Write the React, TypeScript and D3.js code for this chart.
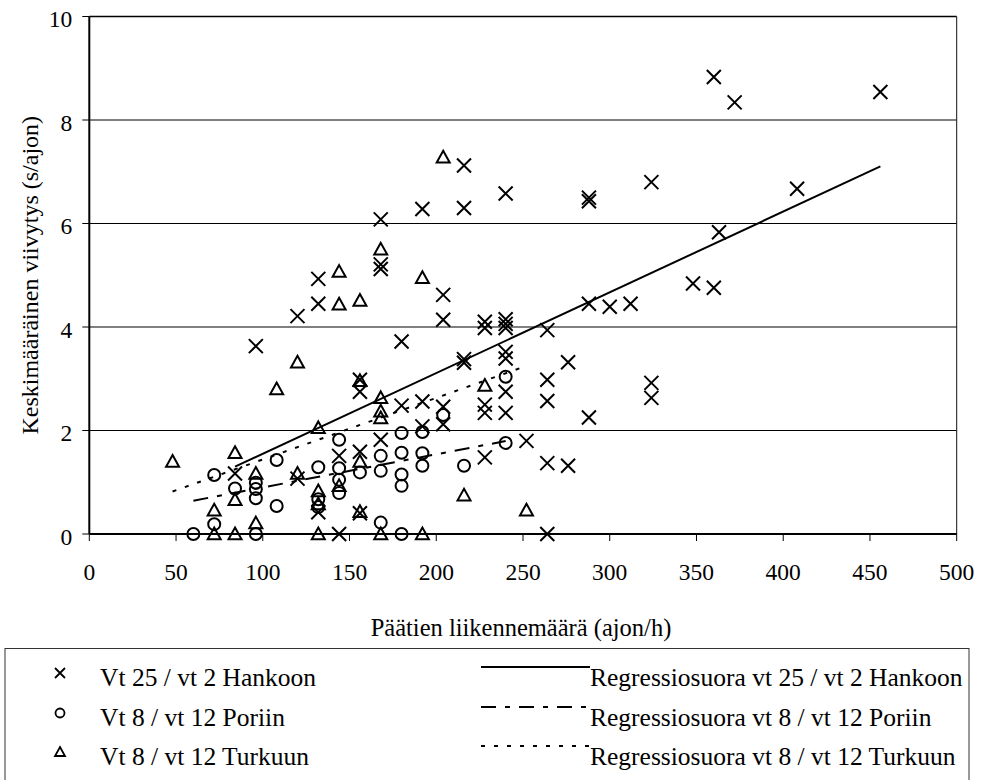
import React from "react";
import * as d3 from "d3";

// ---- data ----
const hankoonX = [84, 96, 120, 120, 132, 132, 132, 144, 144, 156, 156, 156, 156, 168, 168, 168, 168, 180, 180, 192, 192, 192, 204, 204, 204, 204, 216, 216, 216, 216, 228, 228, 228, 228, 228, 240, 240, 240, 240, 240, 240, 240, 240, 252, 264, 264, 264, 264, 264, 276, 276, 288, 288, 288, 288, 300, 312, 324, 324, 324, 348, 360, 360, 363, 372, 408, 456];
const hankoonY = [1.17, 3.63, 4.21, 1.07, 4.45, 4.93, 0.42, 1.51, 0, 2.98, 2.75, 1.59, 0.40, 6.08, 5.21, 5.12, 1.82, 3.72, 2.48, 6.28, 2.56, 2.08, 4.62, 4.14, 2.46, 2.12, 7.12, 6.30, 3.38, 3.31, 4.10, 3.98, 2.50, 2.34, 1.48, 6.58, 4.15, 4.06, 3.98, 3.52, 3.39, 2.75, 2.34, 1.80, 3.94, 2.98, 2.57, 1.37, 0, 3.32, 1.32, 6.50, 6.43, 4.45, 2.25, 4.39, 4.45, 6.80, 2.92, 2.63, 4.84, 8.83, 4.76, 5.83, 8.34, 6.67, 8.54];

const poriinX = [60, 72, 72, 84, 96, 96, 96, 96, 108, 108, 132, 132, 132, 144, 144, 144, 144, 156, 168, 168, 168, 180, 180, 180, 180, 180, 192, 192, 192, 204, 216, 240, 240];
const poriinY = [0, 1.14, 0.19, 0.88, 0.99, 0.87, 0.69, 0, 1.43, 0.54, 1.29, 0.67, 0.52, 1.82, 1.27, 1.05, 0.79, 1.19, 1.51, 1.22, 0.22, 1.95, 1.57, 1.15, 0.93, 0, 1.97, 1.56, 1.32, 2.30, 1.32, 3.04, 1.76];

const turkuunX = [48, 72, 72, 84, 84, 84, 96, 96, 108, 120, 120, 132, 132, 132, 132, 144, 144, 144, 156, 156, 156, 156, 168, 168, 168, 168, 168, 192, 192, 204, 216, 228, 252];
const turkuunY = [1.40, 0.46, 0, 1.57, 0.66, 0, 1.17, 0.21, 2.80, 3.32, 1.17, 2.05, 0.83, 0.58, 0, 5.07, 4.44, 0.93, 4.51, 2.96, 1.40, 0.43, 5.50, 2.63, 2.37, 2.24, 0, 4.95, 0, 7.28, 0.75, 2.87, 0.46];

const regSlopes = [0.0156, 0.0064, 0.0119];
const regIntercepts = [-0.01, 0.26, 0.25];
const regStart = [84, 60, 48];
const regEnd = [456, 240, 252];

const seriesNames = ["Vt 25 / vt 2 Hankoon", "Vt 8 / vt 12 Poriin", "Vt 8 / vt 12 Turkuun"];
const regNames = ["Regressiosuora vt 25 / vt 2 Hankoon", "Regressiosuora vt 8 / vt 12 Poriin", "Regressiosuora vt 8 / vt 12 Turkuun"];
const xTicks = [0, 50, 100, 150, 200, 250, 300, 350, 400, 450, 500];
const yTicks = [0, 2, 4, 6, 8, 10];
const xTitle = "Päätien liikennemäärä (ajon/h)";
const yTitle = "Keskimääräinen viivytys (s/ajon)";

const FONT = '"Liberation Serif", "Times New Roman", Times, serif';
const W = 988, H = 780;
const PL = 89.3, PR = 956.7, PT = 16.5, PB = 534;
const dashes = [null, "15,9,5,9", "4,9"];

function Cross({ x, y, s = 7, sw = 2 }: any) {
  return <path d={`M${x - s},${y - s}L${x + s},${y + s}M${x - s},${y + s}L${x + s},${y - s}`} stroke="#000" strokeWidth={sw} fill="none" />;
}
function Circ({ x, y, r = 6, sw = 2 }: any) {
  return <circle cx={x} cy={y} r={r} stroke="#000" strokeWidth={sw} fill="none" />;
}
function Tri({ x, y, s = 6.5, sw = 2 }: any) {
  return <path d={`M${x},${y - s}L${x + s},${y + s * 0.8}L${x - s},${y + s * 0.8}Z`} stroke="#000" strokeWidth={sw} fill="none" strokeLinejoin="miter" />;
}

const f = (size: number) => ({ fontFamily: FONT, fontSize: size } as React.CSSProperties);

export default function App() {
  const x = d3.scaleLinear().domain([0, 500]).range([PL, PR]);
  const y = d3.scaleLinear().domain([0, 10]).range([PB, PT]);
  const regLine = (i: number) =>
    d3.line<number>().x((v) => x(v)).y((v) => y(regSlopes[i] * v + regIntercepts[i]))([regStart[i], regEnd[i]]) || "";

  const legendRows = [677, 717, 756];
  const markers = [Cross, Circ, Tri];

  return (
    <svg width={W} height={H} style={{ position: "absolute", left: 0, top: 0, background: "#fff", fontFamily: FONT }}>
      <rect x={0} y={0} width={W} height={H} fill="#fff" />
      {yTicks.filter((t) => t > 0).map((t) => (
        <line key={t} x1={PL} x2={PR} y1={y(t)} y2={y(t)} stroke="#000" strokeWidth={t === 10 ? 1.4 : 1} />
      ))}
      <line x1={PR} x2={PR} y1={PT} y2={PB} stroke="#111" strokeWidth={1} />
      <line x1={PL} x2={PL} y1={PT} y2={PB} stroke="#000" strokeWidth={2} />
      <line x1={PL} x2={PR} y1={PB} y2={PB} stroke="#000" strokeWidth={2} />
      {yTicks.map((t) => (
        <g key={t}>
          <line x1={PL - 7} x2={PL} y1={y(t)} y2={y(t)} stroke="#000" strokeWidth={1} />
          <text x={PL - 17} y={y(t) + 2.5} dy="0.35em" textAnchor="end" style={f(23.5)}>{t}</text>
        </g>
      ))}
      {xTicks.map((t) => (
        <g key={t}>
          <line x1={x(t)} x2={x(t)} y1={PB} y2={PB + 7} stroke="#000" strokeWidth={1} />
          <text x={x(t)} y={572} dy="0.35em" textAnchor="middle" style={f(23.5)}>{t}</text>
        </g>
      ))}
      <text x={(PL + PR) / 2 - 2} y={627} dy="0.35em" textAnchor="middle" style={f(24.5)}>{xTitle}</text>
      <text transform={`translate(30,${(PT + PB) / 2}) rotate(-90)`} dy="0.35em" textAnchor="middle" style={f(24)}>{yTitle}</text>

      {[0, 1, 2].map((i) => (
        <path key={i} d={regLine(i)} stroke="#000" strokeWidth={2} fill="none" strokeDasharray={dashes[i] || undefined} />
      ))}

      {turkuunX.map((v, i) => <Tri key={"t" + i} x={x(v)} y={y(turkuunY[i])} />)}
      {poriinX.map((v, i) => <Circ key={"p" + i} x={x(v)} y={y(poriinY[i])} />)}
      {hankoonX.map((v, i) => <Cross key={"h" + i} x={x(v)} y={y(hankoonY[i])} />)}

      <rect x={5} y={648.5} width={964} height={140} fill="none" stroke="#333" strokeWidth={1} />
      {legendRows.map((ry, i) => {
        const M = markers[i];
        return (
          <g key={i}>
            <M x={60} y={ry - 4} s={5} r={4.5} sw={1.8} />
            <text x={100} y={ry} dy="0.35em" style={f(25.5)}>{seriesNames[i]}</text>
            <line x1={481} x2={590} y1={ry - 10} y2={ry - 10} stroke="#000" strokeWidth={2} strokeDasharray={dashes[i] || undefined} />
            <text x={590} y={ry} dy="0.35em" style={f(25.5)}>{regNames[i]}</text>
          </g>
        );
      })}
    </svg>
  );
}
